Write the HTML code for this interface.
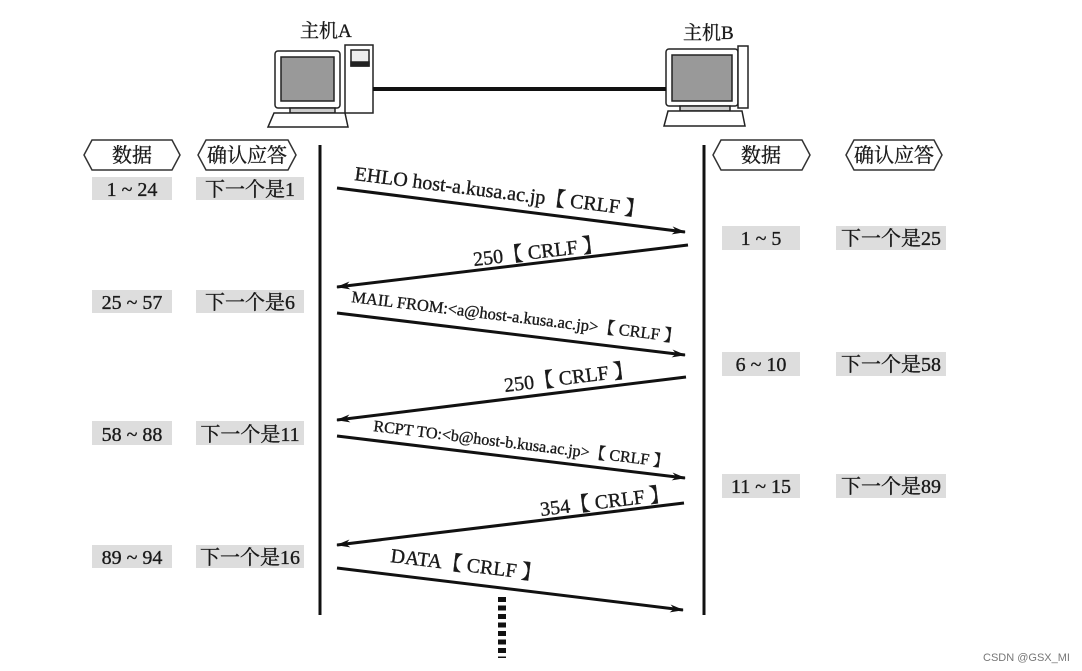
<!DOCTYPE html>
<html><head><meta charset="utf-8"><style>
html,body{margin:0;padding:0;background:#fff;}
svg{display:block;}
text{font-family:"Liberation Serif","Noto Serif CJK SC",serif;fill:#1a1a1a;stroke:#1a1a1a;stroke-width:0.35;}
</style></head><body>
<svg width="1082" height="671" viewBox="0 0 1082 671" xmlns="http://www.w3.org/2000/svg">
<defs>
<marker id="ah" markerWidth="14" markerHeight="10" refX="13" refY="5" orient="auto" markerUnits="userSpaceOnUse">
<path d="M0,1 L14,5 L0,9 L4,5 Z" fill="#111"/></marker>
</defs>
<g stroke="#222" stroke-width="1.5" fill="#fff">
<rect x="275" y="51" width="65" height="57" rx="3"/>
<rect x="281" y="57" width="53" height="44" fill="#999"/>
<rect x="290" y="108" width="45" height="5" fill="#ccc"/>
<path d="M274 113 L345 113 L348 127 L268 127 Z"/>
<rect x="345" y="45" width="28" height="68"/>
<rect x="351" y="50" width="18" height="16" fill="#eee"/>
<rect x="351" y="62" width="18" height="4" fill="#222"/>
<rect x="666" y="49" width="72" height="57" rx="3"/>
<rect x="672" y="55" width="60" height="46" fill="#999"/>
<rect x="680" y="106" width="50" height="5" fill="#ccc"/>
<path d="M668 111 L742 111 L745 126 L664 126 Z"/>
<rect x="738" y="46" width="10" height="62"/>
</g>
<line x1="373" y1="89" x2="666" y2="89" stroke="#111" stroke-width="4"/>
<text x="300" y="37" font-size="19">主机A</text>
<text x="683" y="39" font-size="19">主机B</text>
<line x1="320" y1="145" x2="320" y2="615" stroke="#111" stroke-width="3"/>
<line x1="704" y1="145" x2="704" y2="615" stroke="#111" stroke-width="3"/>
<g fill="#fff" stroke="#333" stroke-width="1.5">
<path d="M92,140 L172,140 L180,155 L172,170 L92,170 L84,155 Z"/>
<path d="M206,140 L288,140 L296,155 L288,170 L206,170 L198,155 Z"/>
<path d="M721,140 L802,140 L810,155 L802,170 L721,170 L713,155 Z"/>
<path d="M854,140 L934,140 L942,155 L934,170 L854,170 L846,155 Z"/>
</g>
<g font-size="20" text-anchor="middle">
<text x="132" y="162">数据</text>
<text x="247" y="162">确认应答</text>
<text x="761" y="162">数据</text>
<text x="894" y="162">确认应答</text>
</g>
<g fill="#ddd">
<rect x="92" y="177" width="80" height="23"/><rect x="196" y="177" width="108" height="23"/>
<rect x="92" y="290" width="80" height="23"/><rect x="196" y="290" width="108" height="23"/>
<rect x="92" y="421" width="80" height="24"/><rect x="196" y="421" width="108" height="24"/>
<rect x="92" y="545" width="80" height="23"/><rect x="196" y="545" width="108" height="23"/>
<rect x="722" y="226" width="78" height="24"/><rect x="836" y="226" width="110" height="24"/>
<rect x="722" y="352" width="78" height="24"/><rect x="836" y="352" width="110" height="24"/>
<rect x="722" y="474" width="78" height="24"/><rect x="836" y="474" width="110" height="24"/>
</g>
<g font-size="20" text-anchor="middle">
<text x="132" y="196">1 ~ 24</text><text x="250" y="196">下一个是1</text>
<text x="132" y="309">25 ~ 57</text><text x="250" y="309">下一个是6</text>
<text x="132" y="441">58 ~ 88</text><text x="250" y="441">下一个是11</text>
<text x="132" y="564">89 ~ 94</text><text x="250" y="564">下一个是16</text>
<text x="761" y="245">1 ~ 5</text><text x="891" y="245">下一个是25</text>
<text x="761" y="371">6 ~ 10</text><text x="891" y="371">下一个是58</text>
<text x="761" y="493">11 ~ 15</text><text x="891" y="493">下一个是89</text>
</g>
<g stroke="#111" stroke-width="3" marker-end="url(#ah)">
<line x1="337" y1="188" x2="685" y2="232"/>
<line x1="688" y1="245" x2="337" y2="287"/>
<line x1="337" y1="313" x2="685" y2="355"/>
<line x1="686" y1="377" x2="337" y2="420"/>
<line x1="337" y1="436" x2="685" y2="478"/>
<line x1="684" y1="503" x2="337" y2="545"/>
<line x1="337" y1="568" x2="683" y2="610"/>
</g>
<g font-size="20">
<text transform="translate(354,180) rotate(7.2)">EHLO host-a.kusa.ac.jp【 CRLF 】</text>
<text transform="translate(474,266) rotate(-6.8)">250【 CRLF 】</text>
<text font-size="16.5" transform="translate(351,302) rotate(7)">MAIL FROM:&lt;a@host-a.kusa.ac.jp&gt;【 CRLF 】</text>
<text transform="translate(505,392) rotate(-7)">250【 CRLF 】</text>
<text font-size="16" transform="translate(373,431) rotate(7)">RCPT TO:&lt;b@host-b.kusa.ac.jp&gt;【 CRLF 】</text>
<text transform="translate(541,516) rotate(-7)">354【 CRLF 】</text>
<text transform="translate(390,562) rotate(7)">DATA【 CRLF 】</text>
</g>
<line x1="502" y1="597" x2="502" y2="658" stroke="#111" stroke-width="8" stroke-dasharray="5,3.5"/>
<text x="983" y="661" font-size="11" style="font-family:'Liberation Sans',sans-serif;fill:#777;stroke:none">CSDN @GSX_MI</text>
</svg>
</body></html>
